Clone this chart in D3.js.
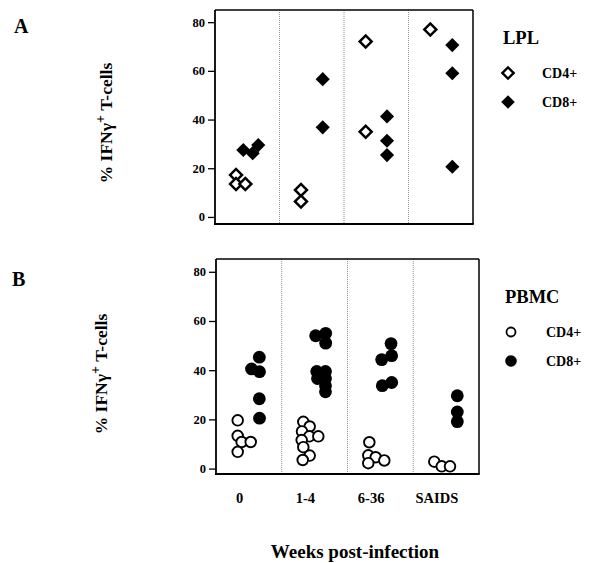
<!DOCTYPE html>
<html>
<head>
<meta charset="utf-8">
<script src="https://cdn.jsdelivr.net/npm/d3@7"></script>
<style>
  body { margin: 0; background: #fff; }
  text { font-family: "Liberation Serif", "Times New Roman", serif; font-weight: bold; fill: #000; }
</style>
</head>
<body>
<script>
// categories and ticks
var categories = ["0", "1-4", "6-36", "SAIDS"];
var yTicks = [0, 20, 40, 60, 80];
var seriesNames = ["CD4+", "CD8+"];

// panel A (LPL): group index and % value
var lplCD4 = [[0, 17.2], [0, 13.5], [0, 13.5], [1, 11.1], [1, 6.3], [2, 72.1], [2, 35.0], [3, 77.0]];
var lplCD8 = [[0, 27.5], [0, 26.2], [0, 29.5], [1, 56.6], [1, 36.8], [2, 41.3], [2, 31.3], [2, 25.4],
              [3, 70.6], [3, 59.0], [3, 20.6]];

// panel B (PBMC)
var pbmcCD4 = [[0, 19.6], [0, 13.3], [0, 10.8], [0, 10.8], [0, 6.8],
               [1, 19.0], [1, 17.1], [1, 15.1], [1, 13.1], [1, 13.1], [1, 11.6], [1, 8.7], [1, 5.3], [1, 3.5],
               [2, 10.7], [2, 5.4], [2, 4.6], [2, 3.3], [2, 2.2],
               [3, 2.8], [3, 0.9], [3, 0.9]];
var pbmcCD8 = [[0, 45.3], [0, 40.5], [0, 39.4], [0, 28.4], [0, 20.5],
               [1, 54.0], [1, 55.0], [1, 51.0], [1, 39.5], [1, 39.5], [1, 36.6], [1, 36.6], [1, 33.7], [1, 31.2],
               [2, 50.8], [2, 44.3], [2, 45.9], [2, 33.7], [2, 35.0],
               [3, 29.6], [3, 23.0], [3, 19.1]];

// horizontal spread of points inside each category (fraction of band)
var lplCD4Jit = [.326, .326, .47, .333, .333, .336, .336, .338];
var lplCD8Jit = [.439, .584, .671, .67, .67, .667, .667, .667, .679, .679, .679];
var pbmcCD4Jit = [.33, .33, .39, .528, .33, .328, .425, .308, .419, .556, .303, .328, .425, .319,
                  .332, .316, .429, .56, .316, .32, .433, .559];
var pbmcCD8Jit = [.659, .54, .662, .659, .662, .516, .668, .668, .532, .665, .544, .665, .665, .665,
                  .662, .52, .672, .529, .672, .67, .67, .67];

var w = 589, h = 563;
var svg = d3.select("body").append("svg")
    .attr("width", w)
    .attr("height", h);

var diamond = function(area) {
  return d3.symbol().type(d3.symbolSquare).size(area)();
};

function drawPanel(p) {
  var x = d3.scaleBand().domain(categories).range([p.left, p.right]);
  var y = d3.scaleLinear().domain(p.ydom).range([p.bottom, p.top]);
  var g = svg.append("g");

  // dotted dividers
  g.selectAll("line.div")
    .data(categories.slice(1))
    .enter().append("line")
      .attr("x1", function(d) { return x(d); })
      .attr("x2", function(d) { return x(d); })
      .attr("y1", p.top)
      .attr("y2", p.bottom)
      .attr("stroke", "#777")
      .attr("stroke-width", 0.8)
      .attr("stroke-dasharray", "1,1");

  // frame
  g.append("line").attr("x1", p.left).attr("x2", p.right).attr("y1", p.top).attr("y2", p.top)
    .attr("stroke", "#000").attr("stroke-width", 1.3);
  g.append("line").attr("x1", p.right).attr("x2", p.right).attr("y1", p.top).attr("y2", p.bottom)
    .attr("stroke", "#000").attr("stroke-width", 1.5);

  var yAxis = d3.axisLeft(y).tickValues(yTicks).tickSize(7).tickPadding(3);
  var ax = g.append("g").attr("transform", "translate(" + p.left + ",0)").call(yAxis);
  ax.select(".domain").remove();
  ax.selectAll(".tick line").attr("stroke", "#000").attr("stroke-width", 1.3);
  ax.selectAll(".tick text").style("font-size", "12.5px").style("font-family", "Liberation Serif").style("font-weight", "bold");
  g.append("line").attr("x1", p.left).attr("x2", p.left).attr("y1", p.top).attr("y2", p.bottom)
    .attr("stroke", "#000").attr("stroke-width", 1.8);
  g.append("line").attr("x1", p.left - 1).attr("x2", p.right + 0.75).attr("y1", p.bottom).attr("y2", p.bottom)
    .attr("stroke", "#000").attr("stroke-width", 2);

  function px(d, i, jit) { return x(categories[d[0]]) + jit[i] * x.bandwidth(); }

  // open markers (CD4+)
  g.selectAll("path.cd4")
    .data(p.cd4)
    .enter().append(p.shape == "diamond" ? "path" : "circle")
      .each(function(d, i) {
        var el = d3.select(this);
        var cx = px(d, i, p.cd4Jit), cy = y(d[1]);
        if (p.shape == "diamond") {
          el.attr("d", diamond(72)).attr("transform", "translate(" + cx + "," + cy + ") rotate(45)");
        } else {
          el.attr("cx", cx).attr("cy", cy).attr("r", 5.3);
        }
      })
      .attr("fill", "#fff")
      .attr("stroke", "#000")
      .attr("stroke-width", p.shape == "diamond" ? 2.5 : 1.9);

  // filled markers (CD8+)
  g.selectAll("path.cd8")
    .data(p.cd8)
    .enter().append(p.shape == "diamond" ? "path" : "circle")
      .each(function(d, i) {
        var el = d3.select(this);
        var cx = px(d, i, p.cd8Jit), cy = y(d[1]);
        if (p.shape == "diamond") {
          el.attr("d", diamond(100)).attr("transform", "translate(" + cx + "," + cy + ") rotate(45)");
        } else {
          el.attr("cx", cx).attr("cy", cy).attr("r", 6.4);
        }
      })
      .attr("fill", "#000");

  // panel letter
  svg.append("text").attr("x", p.letterX).attr("y", p.letterY)
    .style("font-size", "20px").text(p.letter);

  // y label
  var yl = svg.append("text")
    .attr("transform", "translate(" + p.labX + "," + p.labY + ") rotate(-90)")
    .attr("text-anchor", "middle")
    .style("font-size", "17.5px");
  yl.append("tspan").text("% IFN\u03b3");
  yl.append("tspan").attr("dy", -7).style("font-size", "14px").text("+");
  yl.append("tspan").attr("dy", 7).text(" T-cells");

  // legend
  svg.append("text").attr("x", p.legX).attr("y", p.legTitleY)
    .style("font-size", "18.5px").text(p.title);
  seriesNames.forEach(function(s, i) {
    var ly = p.legY[i];
    if (p.shape == "diamond") {
      svg.append("path").attr("d", diamond(i == 0 ? 64 : 92))
        .attr("transform", "translate(" + (p.legX + 5) + "," + ly + ") rotate(45)")
        .attr("fill", i == 0 ? "#fff" : "#000")
        .attr("stroke", i == 0 ? "#000" : "none")
        .attr("stroke-width", 2.4);
    } else {
      svg.append("circle").attr("cx", p.legX + 6).attr("cy", ly)
        .attr("r", i == 0 ? 4.5 : 5.8)
        .attr("fill", i == 0 ? "#fff" : "#000")
        .attr("stroke", i == 0 ? "#000" : "none")
        .attr("stroke-width", 1.8);
    }
    svg.append("text").attr("x", p.legTextX).attr("y", ly + 5)
      .style("font-size", "14px").text(s);
  });

  return x;
}

drawPanel({
  left: 215, right: 473, top: 10, bottom: 224, ydom: [-2.9, 85],
  cd4: lplCD4, cd8: lplCD8, cd4Jit: lplCD4Jit, cd8Jit: lplCD8Jit, shape: "diamond",
  letter: "A", letterX: 14, letterY: 33, labX: 112, labY: 123,
  title: "LPL", legX: 503, legTitleY: 44, legY: [73, 102], legTextX: 542
});

var xB = drawPanel({
  left: 216, right: 479, top: 259, bottom: 474, ydom: [-2.2, 85.2],
  cd4: pbmcCD4, cd8: pbmcCD8, cd4Jit: pbmcCD4Jit, cd8Jit: pbmcCD8Jit, shape: "circle",
  letter: "B", letterX: 12, letterY: 286, labX: 107, labY: 374,
  title: "PBMC", legX: 505, legTitleY: 303, legY: [332, 361], legTextX: 546
});

// category labels under panel B
svg.selectAll("text.cat")
  .data(categories)
  .enter().append("text")
    .attr("x", function(d) { return xB(d) + xB.bandwidth() * 0.36; })
    .attr("y", 503)
    .attr("text-anchor", "middle")
    .style("font-size", "14.5px")
    .text(function(d) { return d; });

svg.append("text")
  .attr("x", 355).attr("y", 558)
  .attr("text-anchor", "middle")
  .style("font-size", "19px")
  .text("Weeks post-infection");
</script>
</body>
</html>
